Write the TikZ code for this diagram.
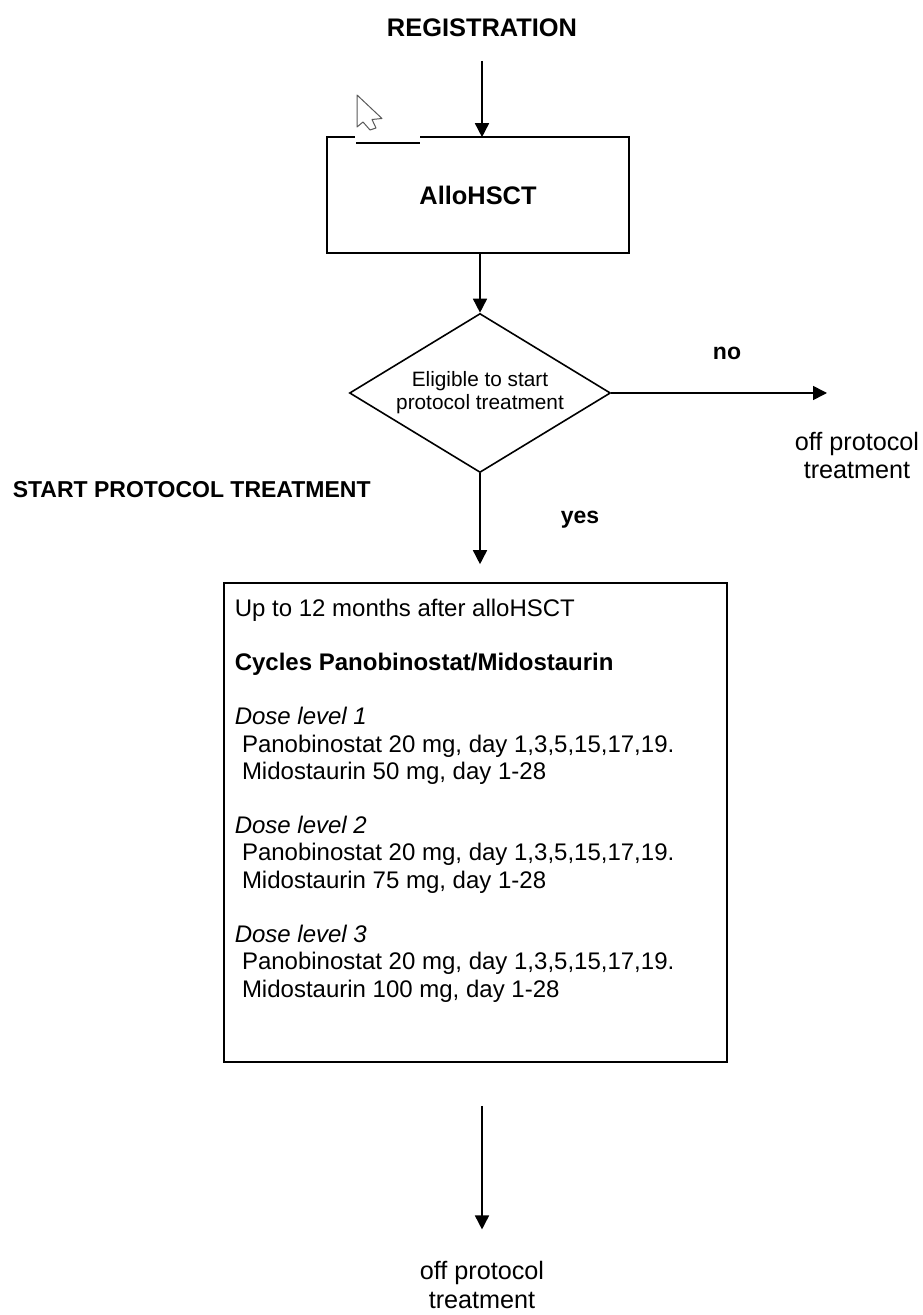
\documentclass[tikz,border=0pt]{standalone}
\usepackage{fontspec}
\setmainfont{Liberation Sans}
\usetikzlibrary{shapes.geometric,arrows.meta,calc}

\begin{document}
\begin{tikzpicture}[
  x=0.5pt, y=-0.5pt,
  line width=0.8pt,
  arr/.style={-{Triangle[length=7pt,width=7pt]}},
  head/.style={font=\fontsize{12.7}{15}\selectfont\bfseries,inner sep=0pt},
  lbl/.style={font=\fontsize{11.5}{14}\selectfont\bfseries,inner sep=0pt},
  outlbl/.style={font=\fontsize{12.6}{14}\selectfont,align=center,inner sep=0pt},
  decision/.style={draw,diamond,aspect=1.64,minimum width=130.5pt,minimum height=79.5pt,
    inner sep=0pt,align=center,font=\fontsize{10.4}{11.5}\selectfont}
]
  \useasboundingbox (0,0) rectangle (922,1315);
  \node[head] (reg) at (482,28) {REGISTRATION};
  \node[head,minimum width=150pt,minimum height=57pt] (allo) at (478,195) {AlloHSCT};
  \draw ($(allo.north west)+(93,0)$) -- (allo.north east) -- (allo.south east)
    -- (allo.south west) -- (allo.north west) -- ++(28,0);
  \draw ($(allo.north west)+(29,6)$) -- ++(64,0);
  \draw[gray!70!black,line width=0.5pt,fill=white,line join=round]
    (357,95) -- (357,127) -- (363,122) -- (370,130) -- (376,128) -- (372,119.5) -- (382,118.5) -- cycle;
  \node[decision] (dec) at (480,393) {Eligible to start\\protocol treatment};
  \node[lbl] (no) at (727,353) {no};
  \coordinate (noend) at (827,393);
  \node[outlbl] (offR) at (857,455) {off protocol\\treatment};
  \node[lbl,anchor=west] (start) at (12,490) {START PROTOCOL TREATMENT};
  \node[lbl] (yes) at (580,520) {yes};
  \node[draw,minimum width=251.5pt,minimum height=239.5pt,inner sep=0pt] (plan) at (475.5,822.5) {};
  \node[anchor=north west,align=left,inner sep=0pt,font=\fontsize{12}{13.6}\selectfont] (plantext) at (234,598) {%
    Up to 12 months after alloHSCT\\[13.6pt]
    \textbf{Cycles Panobinostat/Midostaurin}\\[13.6pt]
    \textit{Dose level 1}\\
    \hspace*{0.3em}Panobinostat 20 mg, day 1,3,5,15,17,19.\\
    \hspace*{0.3em}Midostaurin 50 mg, day 1-28\\[13.6pt]
    \textit{Dose level 2}\\
    \hspace*{0.3em}Panobinostat 20 mg, day 1,3,5,15,17,19.\\
    \hspace*{0.3em}Midostaurin 75 mg, day 1-28\\[13.6pt]
    \textit{Dose level 3}\\
    \hspace*{0.3em}Panobinostat 20 mg, day 1,3,5,15,17,19.\\
    \hspace*{0.3em}Midostaurin 100 mg, day 1-28};
  \node[outlbl,font=\fontsize{12.6}{14.5}\selectfont] (offB) at (482,1285) {off protocol\\treatment};
  \draw[arr,shorten <=11.5pt] (reg.south) -- (reg.south |- allo.north);
  \draw[arr] (dec.north |- allo.south) -- (dec.north);
  \draw[arr] (dec.east) -- (noend);
  \draw[arr,shorten >=9pt] (dec.south) -- (dec.south |- plan.north);
  \draw[arr,shorten <=21.5pt,shorten >=15.5pt] (offB.north |- plan.south) -- (offB.north);
\end{tikzpicture}
\end{document}
